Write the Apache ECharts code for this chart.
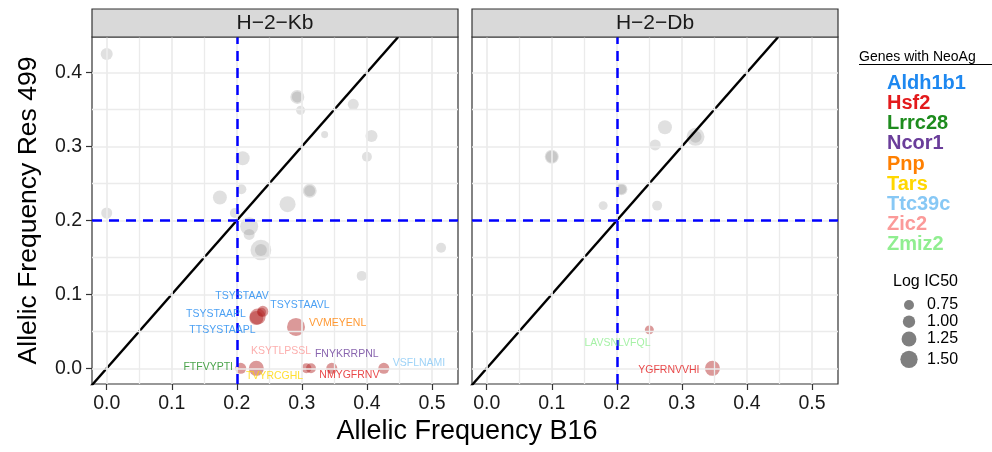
<!DOCTYPE html>
<html>
<head>
<meta charset="utf-8">
<script src="https://cdn.jsdelivr.net/npm/echarts@6/dist/echarts.min.js"></script>
<style>
  html, body { margin: 0; padding: 0; background: #fff; }
  #chart { width: 992px; height: 452px; }
</style>
</head>
<body>
<div id="chart"></div>
<script>
// ---- Facets ----
const panels = ['H\u22122\u2212Kb', 'H\u22122\u2212Db'];

// ---- H-2-Kb: peptides without a neoantigen gene ----
const kbOtherB16  = [0.000, 0.293, 0.293, 0.298, 0.379, 0.335, 0.407, 0.209, 0.400, 0.207, 0.312, 0.312, 0.174, 0.278, 0.000, 0.197, 0.219, 0.219, 0.237, 0.237, 0.514, 0.392];
const kbOtherRes  = [0.425, 0.367, 0.367, 0.349, 0.357, 0.316, 0.314, 0.284, 0.286, 0.242, 0.240, 0.240, 0.231, 0.222, 0.210, 0.210, 0.192, 0.181, 0.160, 0.160, 0.163, 0.125];
const kbOtherIC50 = [0.96, 1.16, 0.86, 0.65, 0.86, 0.45, 0.96, 1.16, 0.75, 0.75, 1.16, 0.86, 1.16, 1.37, 0.86, 0.75, 1.57, 0.86, 1.85, 0.96, 0.75, 0.75];

// ---- H-2-Kb: neoantigen peptides ----
const kbPeptides = ['TSYSTAAV', 'TSYSTAAVL', 'TSYSTAAPL', 'TTSYSTAAPL', 'VVMEYENL', 'FTFVYPTI', 'TVYRCGHL', 'KSYTLPSSL', 'FNYKRRPNL', 'NMYGFRNV', 'VSFLNAMI'];
const kbGenes    = ['Aldh1b1', 'Aldh1b1', 'Aldh1b1', 'Aldh1b1', 'Pnp', 'Lrrc28', 'Tars', 'Zic2', 'Ncor1', 'Hsf2', 'Ttc39c'];
const kbNeoB16   = [0.240, 0.238, 0.232, 0.230, 0.291, 0.206, 0.230, 0.307, 0.314, 0.346, 0.426];
const kbNeoRes   = [0.077, 0.076, 0.070, 0.068, 0.056, 0.000, 0.000, 0.000, 0.000, 0.000, 0.000];
const kbNeoIC50  = [0.86, 0.65, 1.37, 1.16, 1.57, 0.86, 1.27, 0.75, 0.75, 0.86, 0.86];
// repelled label anchors (data units)
const kbLabelB16 = [0.208, 0.297, 0.168, 0.178, 0.355, 0.156, 0.258, 0.268, 0.369, 0.373, 0.480];
const kbLabelRes = [0.098, 0.086, 0.0735, 0.051, 0.061, 0.001, -0.010, 0.023, 0.0194, -0.0095, 0.0068];

// ---- H-2-Db: peptides without a neoantigen gene ----
const dbOtherB16  = [0.100, 0.100, 0.274, 0.259, 0.321, 0.321, 0.207, 0.207, 0.179, 0.262];
const dbOtherRes  = [0.286, 0.286, 0.326, 0.302, 0.313, 0.313, 0.242, 0.242, 0.220, 0.220];
const dbOtherIC50 = [1.16, 0.96, 1.16, 0.86, 1.57, 0.96, 0.96, 0.75, 0.65, 0.75];

// ---- H-2-Db: neoantigen peptides ----
const dbPeptides = ['LAVSNLVFQL', 'YGFRNVVHI'];
const dbGenes    = ['Zmiz2', 'Hsf2'];
const dbNeoB16   = [0.250, 0.347];
const dbNeoRes   = [0.052, 0.000];
const dbNeoIC50  = [0.65, 1.27];
const dbLabelB16 = [0.201, 0.280];
const dbLabelRes = [0.034, -0.002];

// ---- Gene colour key ----
const genes      = ['Aldh1b1', 'Hsf2', 'Lrrc28', 'Ncor1', 'Pnp', 'Tars', 'Ttc39c', 'Zic2', 'Zmiz2'];
const geneColors = ['#1E88F0', '#E31A1C', '#1E8C1E', '#6A3D9A', '#FF7F00', '#FFD700', '#87C8F5', '#FB9A99', '#90EE90'];

// ---- Size key and reference lines ----
const sizeBreaks = [0.75, 1.00, 1.25, 1.50];
const xTicks = [0, 0.1, 0.2, 0.3, 0.4, 0.5];
const yTicks = [0, 0.1, 0.2, 0.3, 0.4];
const xGrid = [0, 0.05, 0.1, 0.15, 0.2, 0.25, 0.3, 0.35, 0.4, 0.45, 0.5];
const yGrid = [0, 0.05, 0.1, 0.15, 0.2, 0.25, 0.3, 0.35, 0.4];
const cutoff = 0.2;
const identity = [[-0.1, -0.1], [0.7, 0.7]];

// shared scale limits (data range plus 5% padding)
const XMIN = -0.0226, XMAX = 0.540, YMIN = -0.0212, YMAX = 0.448;

const FONT = '"Liberation Sans", Arial, Helvetica, sans-serif';
const sizeOf = v => 2.6 + 9.8 * v;
const colorOf = g => geneColors[genes.indexOf(g)];

const gridBoxes = [
  { left: 92, top: 37, width: 366, height: 347 },
  { left: 472, top: 37, width: 366, height: 347 }
];

function panelSeries(i, o, n) {
  const other = o.b16.map((x, k) => [x, o.res[k], o.ic50[k]]);
  const neo = n.b16.map((x, k) => [x, n.res[k], n.ic50[k]]);
  const labels = n.peptides.map((p, k) => ({
    name: p,
    value: [n.lb16[k], n.lres[k]],
    label: { color: colorOf(n.genes[k]) }
  }));
  const isMajor = (v, ticks) => ticks.some(t => Math.abs(t - v) < 1e-9);
  return [
    {
      type: 'scatter', xAxisIndex: i, yAxisIndex: i, data: [], z: 1, silent: true,
      markLine: {
        silent: true, symbol: ['none', 'none'], label: { show: false },
        animation: false,
        data: xGrid.map(v => ({ xAxis: v, lineStyle: { color: '#EBEBEB', type: 'solid', width: isMajor(v, xTicks) ? 1.7 : 1.3 } }))
          .concat(yGrid.map(v => ({ yAxis: v, lineStyle: { color: '#EBEBEB', type: 'solid', width: isMajor(v, yTicks) ? 1.7 : 1.3 } })))
      }
    },
    {
      type: 'scatter', xAxisIndex: i, yAxisIndex: i, data: other, z: 3, silent: true,
      symbolSize: d => sizeOf(d[2]),
      itemStyle: { color: 'rgba(127,127,127,0.3)' }
    },
    {
      type: 'scatter', xAxisIndex: i, yAxisIndex: i, data: neo, z: 3, silent: true,
      symbolSize: d => sizeOf(d[2]),
      itemStyle: { color: 'rgba(178,34,34,0.58)' }
    },
    {
      type: 'scatter', xAxisIndex: i, yAxisIndex: i, data: [], z: 4, silent: true,
      markLine: {
        silent: true, symbol: ['none', 'none'], label: { show: false }, animation: false,
        lineStyle: { color: '#0000FF', type: [10, 7], width: 2.5 },
        data: [{ xAxis: cutoff }, { yAxis: cutoff }]
      }
    },
    {
      type: 'line', xAxisIndex: i, yAxisIndex: i, data: identity, z: 4, silent: true,
      showSymbol: false, symbol: 'none', clip: true,
      lineStyle: { color: '#000', width: 2.4 }
    },
    {
      type: 'scatter', xAxisIndex: i, yAxisIndex: i, data: labels, z: 6, silent: true,
      symbolSize: 1, itemStyle: { color: 'rgba(0,0,0,0)' },
      label: { show: true, position: 'inside', formatter: '{b}', fontSize: 10.5, fontFamily: FONT }
    }
  ];
}

const series = [].concat(
  panelSeries(0,
    { b16: kbOtherB16, res: kbOtherRes, ic50: kbOtherIC50 },
    { b16: kbNeoB16, res: kbNeoRes, ic50: kbNeoIC50, peptides: kbPeptides, genes: kbGenes, lb16: kbLabelB16, lres: kbLabelRes }),
  panelSeries(1,
    { b16: dbOtherB16, res: dbOtherRes, ic50: dbOtherIC50 },
    { b16: dbNeoB16, res: dbNeoRes, ic50: dbNeoIC50, peptides: dbPeptides, genes: dbGenes, lb16: dbLabelB16, lres: dbLabelRes })
);

const xAxes = gridBoxes.map((g, i) => ({
  type: 'value', gridIndex: i, min: XMIN, max: XMAX, position: 'bottom',
  axisLine: { show: false, onZero: false },
  splitLine: { show: false },
  axisTick: { show: true, inside: false, customValues: xTicks, length: 6, lineStyle: { color: '#333', width: 1.2 } },
  axisLabel: { show: true, customValues: xTicks, formatter: v => v.toFixed(1), fontSize: 19.5, color: '#1a1a1a', fontFamily: FONT, margin: 10 }
}));

const yAxes = gridBoxes.map((g, i) => ({
  type: 'value', gridIndex: i, min: YMIN, max: YMAX, position: 'left',
  axisLine: { show: false, onZero: false },
  splitLine: { show: false },
  axisTick: { show: i === 0, inside: false, customValues: yTicks, length: 6, lineStyle: { color: '#333', width: 1.2 } },
  axisLabel: { show: i === 0, customValues: yTicks, formatter: v => v.toFixed(1), fontSize: 19.5, color: '#1a1a1a', fontFamily: FONT, margin: 10 },
  name: i === 0 ? 'Allelic Frequency Res 499' : '',
  nameLocation: 'middle', nameGap: 50, nameRotate: 90,
  nameTextStyle: { fontSize: 26.5, color: '#000', fontFamily: FONT }
}));

const graphic = [];
gridBoxes.forEach((g, i) => {
  graphic.push({
    type: 'rect', shape: { x: g.left, y: 9, width: g.width, height: 28 },
    style: { fill: '#D9D9D9', stroke: '#333', lineWidth: 1.2 }, z: 10
  });
  graphic.push({
    type: 'text', x: g.left + g.width / 2, y: 23.5, z: 11,
    style: { text: panels[i], font: '21px ' + FONT, fill: '#1a1a1a',
      textAlign: 'center', textVerticalAlign: 'middle', align: 'center', verticalAlign: 'middle' }
  });
});
graphic.push({
  type: 'text', x: 467, y: 432, z: 11,
  style: { text: 'Allelic Frequency B16', font: '27px ' + FONT, fill: '#000',
    textAlign: 'center', textVerticalAlign: 'middle', align: 'center', verticalAlign: 'middle' }
});
// gene colour key
graphic.push({
  type: 'text', x: 859, y: 57, z: 11,
  style: { text: 'Genes with NeoAg', font: '14px ' + FONT, fill: '#000',
    textAlign: 'left', textVerticalAlign: 'middle', align: 'left', verticalAlign: 'middle' }
});
graphic.push({ type: 'line', z: 11, shape: { x1: 859, y1: 64.5, x2: 992, y2: 64.5 }, style: { stroke: '#000', lineWidth: 1 } });
genes.forEach((g, k) => {
  graphic.push({
    type: 'text', x: 887, y: 83.3 + k * 20.2, z: 11,
    style: { text: g, font: 'bold 20px ' + FONT, fill: geneColors[k],
      textAlign: 'left', textVerticalAlign: 'middle', align: 'left', verticalAlign: 'middle' }
  });
});
// size key
graphic.push({
  type: 'text', x: 893, y: 281.7, z: 11,
  style: { text: 'Log IC50', font: '16px ' + FONT, fill: '#000',
    textAlign: 'left', textVerticalAlign: 'middle', align: 'left', verticalAlign: 'middle' }
});
const sizeKeyY = [305, 321.7, 339, 359.3];
sizeBreaks.forEach((v, k) => {
  graphic.push({ type: 'circle', z: 11, shape: { cx: 909, cy: sizeKeyY[k], r: sizeOf(v) / 2 }, style: { fill: '#7F7F7F' } });
  graphic.push({
    type: 'text', x: 927, y: sizeKeyY[k], z: 11,
    style: { text: v.toFixed(2), font: '16px ' + FONT, fill: '#000',
      textAlign: 'left', textVerticalAlign: 'middle', align: 'left', verticalAlign: 'middle' }
  });
});

const chart = echarts.init(document.getElementById('chart'), null, { renderer: 'canvas' });
chart.setOption({
  animation: false,
  backgroundColor: '#fff',
  textStyle: { fontFamily: FONT },
  grid: gridBoxes.map(g => Object.assign({ show: true, backgroundColor: '#fff', borderColor: '#333', borderWidth: 1.2, containLabel: false }, g)),
  xAxis: xAxes,
  yAxis: yAxes,
  series: series,
  graphic: graphic
});
</script>
</body>
</html>
